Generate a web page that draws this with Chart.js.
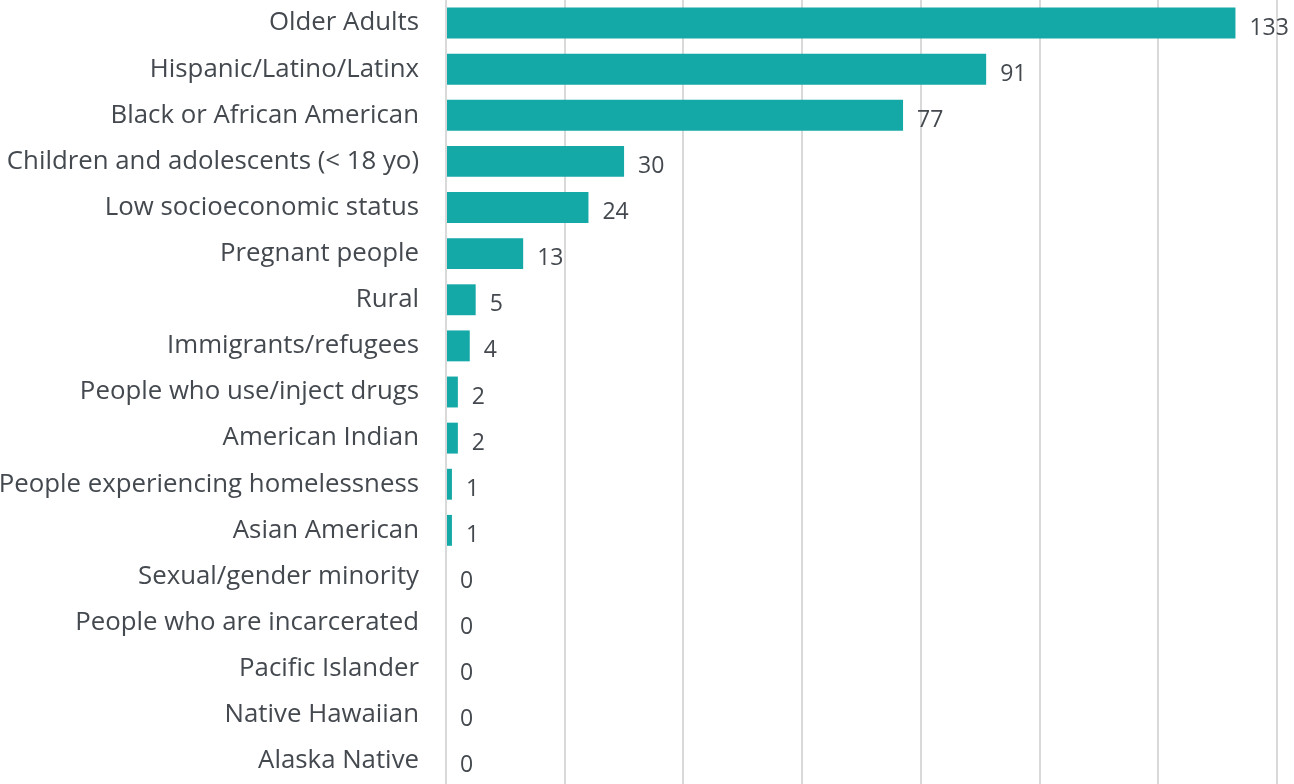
<!DOCTYPE html>
<html>
<head>
<meta charset="utf-8">
<script src="https://cdn.jsdelivr.net/npm/chart.js@4.4.0/dist/chart.umd.min.js"></script>
<style>
  html, body { margin: 0; padding: 0; background: #fff; }
  #wrap { width: 1294px; height: 784px; }
</style>
</head>
<body>
<div id="wrap"><canvas id="myChartBar"></canvas></div>
<script>
var gruppi = [
  'Older Adults', 'Hispanic/Latino/Latinx', 'Black or African American',
  'Children and adolescents (< 18 yo)', 'Low socioeconomic status', 'Pregnant people',
  'Rural', 'Immigrants/refugees', 'People who use/inject drugs', 'American Indian',
  'People experiencing homelessness', 'Asian American', 'Sexual/gender minority',
  'People who are incarcerated', 'Pacific Islander', 'Native Hawaiian', 'Alaska Native'
];
var conteggi = [133, 91, 77, 30, 24, 13, 5, 4, 2, 2, 1, 1, 0, 0, 0, 0, 0];
var asseMax = 140;
var asseStep = 20;

var coloreBarra = '#14a9a6';
var coloreTesto = '#44494f';
var font = "'Open Sans', sans-serif";

// scrive il valore a destra di ogni barra
var etichetteValori = {
  id: 'etichetteValori',
  afterDatasetsDraw: function(chart) {
    var ctx = chart.ctx;
    var meta = chart.getDatasetMeta(0);
    ctx.save();
    ctx.font = '23px ' + font;
    ctx.fillStyle = coloreTesto;
    ctx.textBaseline = 'middle';
    ctx.textAlign = 'left';
    meta.data.forEach(function(bar, i) {
      ctx.fillText(conteggi[i], bar.x + 14, bar.y + 5);
    });
    ctx.restore();
  }
};

// niente margini extra attorno all'area del grafico
function togliPadding(scale) {
  scale.paddingTop = 0;
  scale.paddingBottom = 0;
  scale.paddingLeft = 0;
  scale.paddingRight = 0;
}

var ctx = document.getElementById('myChartBar');
var chart = new Chart(ctx, {
  type: 'bar',
  data: {
    labels: gruppi,
    datasets: [{
      data: conteggi,
      backgroundColor: coloreBarra,
      barPercentage: 0.67,
      categoryPercentage: 1
    }]
  },
  options: {
    indexAxis: 'y',
    responsive: true,
    maintainAspectRatio: false,
    animation: false,
    layout: { padding: { top: 0, right: 17, bottom: 0, left: 0 } },
    plugins: {
      legend: { display: false },
      tooltip: { enabled: false }
    },
    scales: {
      x: {
        min: 0,
        max: asseMax,
        afterFit: function(scale) { scale.height = 0; togliPadding(scale); },
        ticks: { display: false, stepSize: asseStep },
        grid: { color: '#d9d9d9', lineWidth: 2, drawTicks: false },
        border: { display: false }
      },
      y: {
        afterFit: function(scale) { scale.width = 446; togliPadding(scale); },
        ticks: {
          color: coloreTesto,
          font: { family: font, size: 25.8 },
          padding: 27,
          autoSkip: false
        },
        grid: { display: false, drawTicks: false },
        border: { display: true, color: '#d9d9d9', width: 2 }
      }
    }
  },
  plugins: [etichetteValori]
});
</script>
</body>
</html>
